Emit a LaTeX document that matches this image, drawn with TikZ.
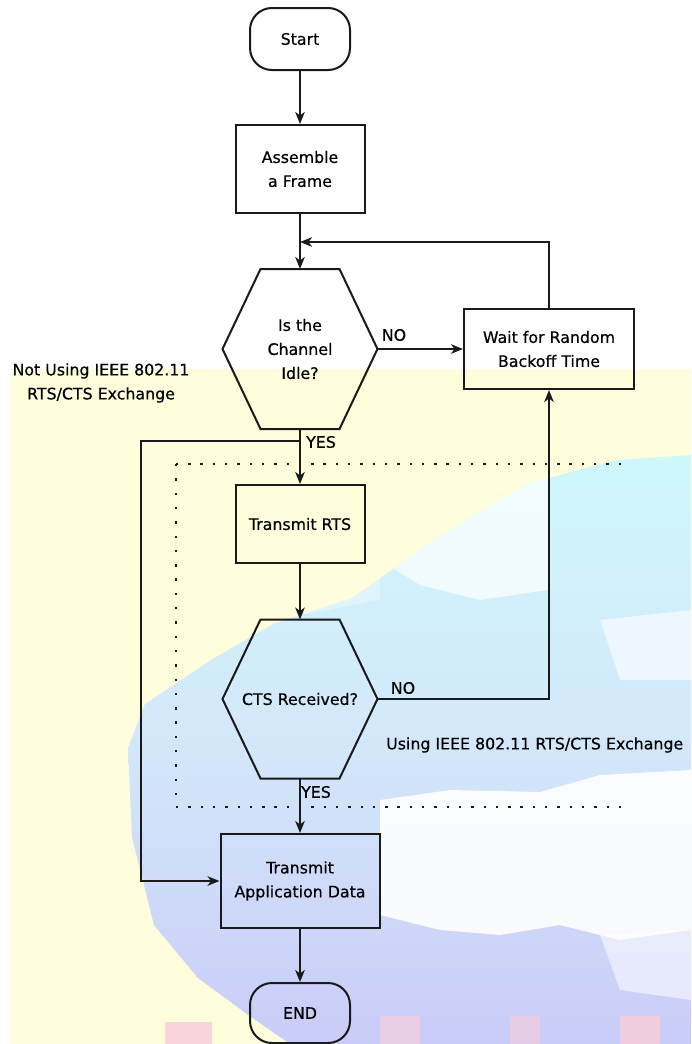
\documentclass[tikz,border=0pt]{standalone}
\usepackage{fontspec}
\setmainfont{DejaVu Sans}[FakeBold=0.5]
\usetikzlibrary{arrows.meta}
\definecolor{ln}{HTML}{1A1A1A}
\definecolor{bgyel}{HTML}{FEFDDC}
\definecolor{glcyan}{HTML}{CFF8FB}
\definecolor{glmid}{HTML}{D3E7FA}
\definecolor{gllav}{HTML}{C9CCF7}
\definecolor{pinkp}{HTML}{F9CDDC}
\begin{document}
\begin{tikzpicture}[x=1pt,y=1pt,
  font=\fontsize{15.8}{24}\selectfont,
  box/.style={draw=ln, line width=2pt, align=center, inner sep=0pt},
  term/.style={box, rounded corners=22pt, minimum width=100pt, minimum height=62pt},
  proc/.style={box},
  hexn/.style={minimum width=155pt, minimum height=160pt, align=center, inner sep=0pt, outer sep=0pt},
  flow/.style={draw=ln, line width=2pt, -{Stealth[length=12pt,width=9.5pt,inset=3.5pt]}},
  plain/.style={draw=ln, line width=2pt, line join=miter},
  lbl/.style={inner sep=0pt},
  dotsh/.style={draw=ln, line width=2.4pt, dash pattern=on 2.4pt off 9.9pt},
  dotsv/.style={draw=ln, line width=2.4pt, dash pattern=on 2.4pt off 11.9pt}
]
% background
\fill[white] (0,0) rectangle (691,-1044);
\useasboundingbox (0,0) rectangle (691,-1044);
\fill[bgyel] (11,-369) rectangle (691,-1044);
\begin{scope}
\clip (691,-455) -- (617,-460) -- (529,-483) -- (440,-536) -- (352,-598) -- (273,-624)
  -- (211,-660) -- (145,-704) -- (128,-748) -- (132,-837) -- (154,-925)
  -- (198,-978) -- (247,-1014) -- (290,-1044) -- (691,-1044) -- cycle;
\shade[top color=glcyan, bottom color=gllav, middle color=glmid] (120,-450) rectangle (691,-1044);
% white clouds
\fill[white, opacity=0.9] (380,-800) -- (450,-790) -- (540,-792) -- (600,-775) -- (691,-770)
  -- (691,-930) -- (620,-940) -- (600,-935) -- (560,-925) -- (500,-935) -- (440,-930) -- (380,-915) -- cycle;
\fill[white, opacity=0.55] (600,-935) -- (691,-930) -- (691,-1000) -- (620,-990) -- cycle;
\fill[white, opacity=0.7] (380,-505) -- (450,-490) -- (548,-478) -- (548,-590) -- (480,-600) -- (420,-585) -- (380,-560) -- cycle;
\fill[white, opacity=0.35] (250,-590) -- (320,-570) -- (380,-560) -- (380,-600) -- (300,-615) -- cycle;
\fill[white, opacity=0.6] (600,-620) -- (691,-610) -- (691,-680) -- (620,-680) -- cycle;
\end{scope}
% pink patches
\fill[pinkp, opacity=0.85] (165,-1022) rectangle (212,-1044);
\fill[pinkp, opacity=0.7] (380,-1016) rectangle (420,-1044);
\fill[pinkp, opacity=0.6] (510,-1016) rectangle (540,-1044);
\fill[pinkp, opacity=0.85] (620,-1016) rectangle (660,-1044);

% dotted region
\draw[dotsh] (621,-464) -- (176,-464);
\draw[dotsv] (176,-464) -- (176,-807);
\draw[dotsh] (176,-807) -- (621,-807);

% nodes
\node[term] (start) at (300,-39) {Start};
\node[proc, minimum width=129pt, minimum height=88pt] (asm) at (300,-169) {Assemble\\a Frame};
\node[hexn] (idle) at (300,-349) {Is the\\Channel\\Idle?};
\draw[plain] ([xshift=38pt]idle.north west) -- ([xshift=-38pt]idle.north east) -- (idle.east)
  -- ([xshift=-38pt]idle.south east) -- ([xshift=38pt]idle.south west) -- (idle.west) -- cycle;
\node[proc, minimum width=170pt, minimum height=80pt] (wait) at (549,-349) {Wait for Random\\Backoff Time};
\node[proc, minimum width=129pt, minimum height=78pt] (rts) at (300,-524) {Transmit RTS};
\node[hexn, minimum height=159pt] (cts) at (300,-699) {CTS Received?};
\draw[plain] ([xshift=38pt]cts.north west) -- ([xshift=-38pt]cts.north east) -- (cts.east)
  -- ([xshift=-38pt]cts.south east) -- ([xshift=38pt]cts.south west) -- (cts.west) -- cycle;
\node[proc, minimum width=159pt, minimum height=94pt] (app) at (300,-881) {Transmit\\Application Data};
\node[term, minimum height=60pt] (end) at (300,-1013) {END};

% labels
\node[lbl] (no1) at (394,-335) {NO};
\node[lbl] (yes1) at (321,-442) {YES};
\node[lbl] (no2) at (403,-688) {NO};
\node[lbl] (yes2) at (316,-792) {YES};
\node[lbl, align=center] (notusing) at (101,-383) {Not Using IEEE 802.11\\RTS/CTS Exchange};
\node[lbl, anchor=west] (using) at (386,-745) {Using IEEE 802.11 RTS/CTS Exchange};

% coordinates
\coordinate (loopin) at (300,-242);
\coordinate (yb) at (300,-441);
\coordinate (bl) at (141,-441);

% connectors
\draw[flow] (start) -- (asm);
\draw[flow] (asm) -- (idle.north);
\draw[flow] (wait.north) |- (loopin);
\draw[flow] (idle.east) -- (wait.west);
\draw[flow] (idle.south) -- (rts.north);
\draw[flow] (yb) -- (bl) |- (app.west);
\draw[flow] (rts) -- (cts.north);
\draw[flow] (cts.east) -| (wait.south);
\draw[flow] (cts.south) -- (app.north);
\draw[flow] (app) -- (end);
\end{tikzpicture}
\end{document}
